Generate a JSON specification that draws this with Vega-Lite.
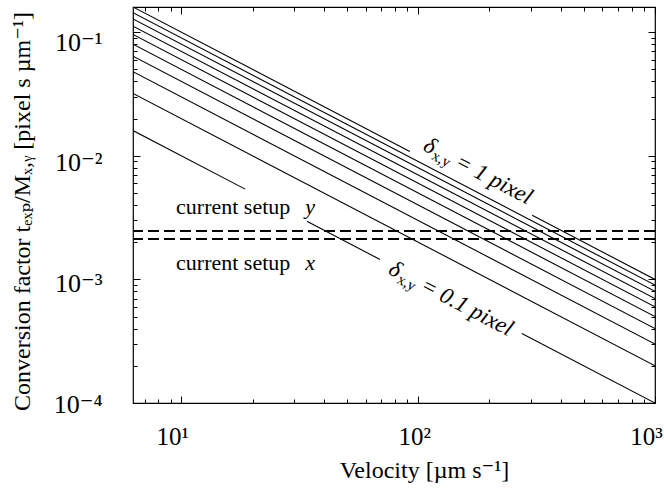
{
  "$schema": "https://vega.github.io/schema/vega-lite/v6.json",
  "width": 522,
  "height": 396,
  "autosize": "none",
  "padding": {"left": 133, "top": 7, "right": 9, "bottom": 89},
  "background": "white",
  "config": {
    "view": {"stroke": "black", "strokeWidth": 1.2},
    "font": "Liberation Serif, DejaVu Serif, serif",
    "text": {"font": "Liberation Serif, DejaVu Serif, serif"},
    "axis": {
      "grid": false,
      "domain": false,
      "tickColor": "black",
      "tickWidth": 1,
      "labelColor": "black",
      "labelFont": "Liberation Serif, DejaVu Serif, serif",
      "labelFontSize": 25,
      "labelOverlap": false,
      "labelFlush": false,
      "labelBound": false,
      "titleFont": "Liberation Serif, DejaVu Serif, serif",
      "titleFontSize": 24,
      "titleFontWeight": "normal",
      "titleColor": "black"
    }
  },
  "datasets": {
    "lines": [
      {"seg": "0.1a", "v": 6.25, "c": 0.016},
      {"seg": "0.1a", "v": 18.6, "c": 0.005376},
      {"seg": "0.1b", "v": 33.9, "c": 0.00295},
      {"seg": "0.1b", "v": 69.0, "c": 0.001449},
      {"seg": "0.1c", "v": 274, "c": 0.000365},
      {"seg": "0.1c", "v": 1000, "c": 0.0001},
      {"seg": "0.2", "v": 6.25, "c": 0.032},
      {"seg": "0.2", "v": 1000, "c": 0.0002},
      {"seg": "0.3", "v": 6.25, "c": 0.048},
      {"seg": "0.3", "v": 1000, "c": 0.0003},
      {"seg": "0.4", "v": 6.25, "c": 0.064},
      {"seg": "0.4", "v": 1000, "c": 0.0004},
      {"seg": "0.5", "v": 6.25, "c": 0.08},
      {"seg": "0.5", "v": 1000, "c": 0.0005},
      {"seg": "0.6", "v": 6.25, "c": 0.096},
      {"seg": "0.6", "v": 1000, "c": 0.0006},
      {"seg": "0.7", "v": 6.25, "c": 0.112},
      {"seg": "0.7", "v": 1000, "c": 0.0007},
      {"seg": "0.8", "v": 6.25, "c": 0.128},
      {"seg": "0.8", "v": 1000, "c": 0.0008},
      {"seg": "0.9", "v": 6.25, "c": 0.144},
      {"seg": "0.9", "v": 1000, "c": 0.0009},
      {"seg": "1.0a", "v": 6.25, "c": 0.16},
      {"seg": "1.0a", "v": 92.2, "c": 0.01085},
      {"seg": "1.0b", "v": 303, "c": 0.0033},
      {"seg": "1.0b", "v": 1000, "c": 0.001}
    ],
    "setup": [
      {"name": "y", "c": 0.00247},
      {"name": "x", "c": 0.00212}
    ],
    "setupText": [
      {"v": 9.5, "c": 0.00383, "pre": "current setup", "var": "y"},
      {"v": 9.5, "c": 0.00135, "pre": "current setup", "var": "x"}
    ],
    "deltaText": [
      {"v": 103.4, "c": 0.01303, "sub": "x,y", "rest": "= 1 pixel"},
      {"v": 73.9, "c": 0.0013014, "sub": "x,y", "rest": "= 0.1 pixel"}
    ]
  },
  "layer": [
    {
      "data": {"name": "lines"},
      "mark": {"type": "line", "color": "black", "strokeWidth": 1.1, "clip": true},
      "encoding": {
        "x": {
          "field": "v", "type": "quantitative",
          "scale": {"type": "log", "domain": [6.25, 1000], "nice": false},
          "axis": {
            "orient": "bottom",
            "values": [7, 8, 9, 10, 20, 30, 40, 50, 60, 70, 80, 90, 100, 200, 300, 400, 500, 600, 700, 800, 900, 1000],
            "labelExpr": "datum.value == 10 ? '10¹' : datum.value == 100 ? '10²' : datum.value == 1000 ? '10³' : ''",
            "tickSize": {"condition": {"test": "datum.value == 10 || datum.value == 100 || datum.value == 1000", "value": -7}, "value": -4},
            "labelOffset": {"condition": {"test": "datum.value == 100", "value": -4}, "value": -9},
            "labelPadding": 28,
            "title": "Velocity [µm s⁻¹]",
            "titleX": 291,
            "titlePadding": 6
          }
        },
        "y": {
          "field": "c", "type": "quantitative",
          "scale": {"type": "log", "domain": [0.0001, 0.16], "nice": false},
          "axis": {
            "orient": "left",
            "values": [0.0001, 0.0002, 0.0003, 0.0004, 0.0005, 0.0006, 0.0007, 0.0008, 0.0009, 0.001, 0.002, 0.003, 0.004, 0.005, 0.006, 0.007, 0.008, 0.009, 0.01, 0.02, 0.03, 0.04, 0.05, 0.06, 0.07, 0.08, 0.09, 0.1],
            "labelExpr": "datum.value == 0.0001 ? '10⁻⁴' : datum.value == 0.001 ? '10⁻³' : datum.value == 0.01 ? '10⁻²' : datum.value == 0.1 ? '10⁻¹' : ''",
            "tickSize": {"condition": {"test": "datum.value == 0.0001 || datum.value == 0.001 || datum.value == 0.01 || datum.value == 0.1", "value": -7}, "value": -4},
            "labelOffset": {"condition": [{"test": "datum.value == 0.1", "value": 10}, {"test": "datum.value == 0.01", "value": 7}, {"test": "datum.value == 0.001", "value": 4}], "value": 1},
            "labelFontSize": 26,
            "labelPadding": 38,
            "title": "Conversion factor  tₑₓₚ/Mₓ,ᵧ  [pixel s µm⁻¹]",
            "titleX": -99,
            "titleY": 204
          }
        },
        "detail": {"field": "seg"}
      }
    },
    {
      "data": {"name": "lines"},
      "mark": {"type": "line", "opacity": 0},
      "encoding": {
        "x": {
          "field": "v", "type": "quantitative",
          "scale": {"type": "log", "domain": [6.25, 1000], "nice": false},
          "axis": {
            "orient": "top",
            "values": [7, 8, 9, 10, 20, 30, 40, 50, 60, 70, 80, 90, 100, 200, 300, 400, 500, 600, 700, 800, 900, 1000],
            "labels": false,
            "title": null,
            "tickSize": {"condition": {"test": "datum.value == 10 || datum.value == 100 || datum.value == 1000", "value": -7}, "value": -4}
          }
        },
        "y": {
          "field": "c", "type": "quantitative",
          "scale": {"type": "log", "domain": [0.0001, 0.16], "nice": false},
          "axis": {
            "orient": "right",
            "values": [0.0001, 0.0002, 0.0003, 0.0004, 0.0005, 0.0006, 0.0007, 0.0008, 0.0009, 0.001, 0.002, 0.003, 0.004, 0.005, 0.006, 0.007, 0.008, 0.009, 0.01, 0.02, 0.03, 0.04, 0.05, 0.06, 0.07, 0.08, 0.09, 0.1],
            "labels": false,
            "title": null,
            "tickSize": {"condition": {"test": "datum.value == 0.0001 || datum.value == 0.001 || datum.value == 0.01 || datum.value == 0.1", "value": -7}, "value": -4}
          }
        },
        "detail": {"field": "seg"}
      }
    },
    {
      "data": {"name": "setup"},
      "mark": {"type": "rule", "color": "black", "strokeWidth": 2, "strokeDash": [11, 5]},
      "encoding": {
        "y": {"field": "c", "type": "quantitative", "scale": {"type": "log", "domain": [0.0001, 0.16], "nice": false}, "axis": null}
      }
    },
    {
      "data": {"name": "setupText"},
      "mark": {"type": "text", "align": "left", "baseline": "middle", "fontSize": 22, "color": "black"},
      "encoding": {
        "x": {"field": "v", "type": "quantitative", "scale": {"type": "log", "domain": [6.25, 1000], "nice": false}, "axis": null},
        "y": {"field": "c", "type": "quantitative", "scale": {"type": "log", "domain": [0.0001, 0.16], "nice": false}, "axis": null},
        "text": {"field": "pre"}
      }
    },
    {
      "data": {"name": "setupText"},
      "mark": {"type": "text", "align": "right", "baseline": "middle", "fontSize": 22, "fontStyle": "italic", "color": "black", "dx": 139},
      "encoding": {
        "x": {"field": "v", "type": "quantitative", "scale": {"type": "log", "domain": [6.25, 1000], "nice": false}, "axis": null},
        "y": {"field": "c", "type": "quantitative", "scale": {"type": "log", "domain": [0.0001, 0.16], "nice": false}, "axis": null},
        "text": {"field": "var"}
      }
    },
    {
      "data": {"name": "deltaText"},
      "mark": {"type": "text", "align": "left", "baseline": "middle", "fontSize": 23, "fontStyle": "italic", "color": "black", "angle": 27.6, "dx": 4},
      "encoding": {
        "x": {"field": "v", "type": "quantitative", "scale": {"type": "log", "domain": [6.25, 1000], "nice": false}, "axis": null},
        "y": {"field": "c", "type": "quantitative", "scale": {"type": "log", "domain": [0.0001, 0.16], "nice": false}, "axis": null},
        "text": {"value": "δ"}
      }
    },
    {
      "data": {"name": "deltaText"},
      "mark": {"type": "text", "align": "left", "baseline": "middle", "fontSize": 15, "color": "black", "angle": 27.6, "dx": 16, "dy": 6},
      "encoding": {
        "x": {"field": "v", "type": "quantitative", "scale": {"type": "log", "domain": [6.25, 1000], "nice": false}, "axis": null},
        "y": {"field": "c", "type": "quantitative", "scale": {"type": "log", "domain": [0.0001, 0.16], "nice": false}, "axis": null},
        "text": {"field": "sub"}
      }
    },
    {
      "data": {"name": "deltaText"},
      "mark": {"type": "text", "align": "left", "baseline": "middle", "fontSize": 23, "fontStyle": "italic", "color": "black", "angle": 27.6, "dx": 40},
      "encoding": {
        "x": {"field": "v", "type": "quantitative", "scale": {"type": "log", "domain": [6.25, 1000], "nice": false}, "axis": null},
        "y": {"field": "c", "type": "quantitative", "scale": {"type": "log", "domain": [0.0001, 0.16], "nice": false}, "axis": null},
        "text": {"field": "rest"}
      }
    }
  ],
  "resolve": {"axis": {"x": "independent", "y": "independent"}}
}
